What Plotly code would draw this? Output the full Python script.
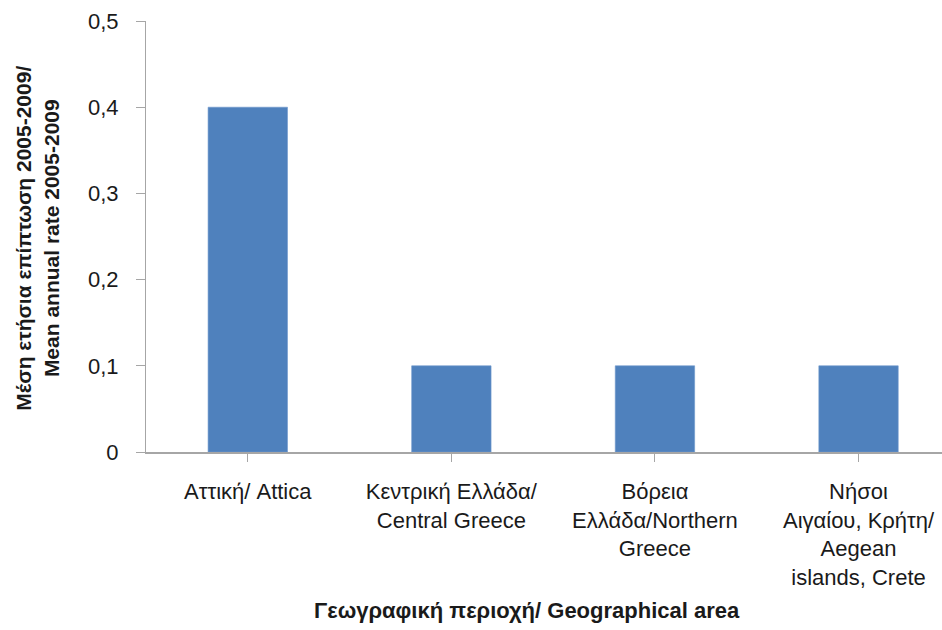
import plotly.graph_objects as go

# Mean annual rate 2005-2009 by geographical area
categories = [
    "Αττική/ Attica",
    "Κεντρική Ελλάδα/<br>Central Greece",
    "Βόρεια<br>Ελλάδα/Northern<br>Greece",
    "Νήσοι<br>Αιγαίου, Κρήτη/<br>Aegean<br>islands, Crete",
]
rates = [0.4, 0.1, 0.1, 0.1]
y_ticks = [0, 0.1, 0.2, 0.3, 0.4, 0.5]
y_tick_labels = ["0", "0,1", "0,2", "0,3", "0,4", "0,5"]

FONT = "Liberation Sans Narrow, Arial Narrow, Liberation Sans, sans-serif"
AXIS_GREY = "#a6a6a6"

fig = go.Figure(
    go.Bar(
        x=list(range(len(categories))),
        y=rates,
        width=0.39,
        marker=dict(color="#4f81bd", line=dict(color="#6f98cc", width=0.6)),
    )
)

fig.update_layout(
    width=942,
    height=630,
    margin=dict(l=146, r=0, t=21, b=178),
    paper_bgcolor="white",
    plot_bgcolor="white",
    showlegend=False,
    font=dict(family=FONT, size=17, color="#1a1a1a"),
    xaxis=dict(
        range=[-0.5, 3.41],
        tickmode="array",
        tickvals=list(range(len(categories))),
        ticktext=categories,
        tickson="boundaries",
        ticks="outside",
        ticklen=8,
        tickcolor=AXIS_GREY,
        showline=True,
        linecolor=AXIS_GREY,
        linewidth=1.5,
        showgrid=False,
        zeroline=False,
        tickfont=dict(family=FONT, size=22),
        ticklabelstandoff=11,
    ),
    yaxis=dict(
        range=[0, 0.5],
        tickmode="array",
        tickvals=y_ticks,
        ticktext=y_tick_labels,
        ticks="outside",
        ticklen=9,
        tickcolor=AXIS_GREY,
        showline=True,
        linecolor=AXIS_GREY,
        linewidth=1,
        showgrid=False,
        zeroline=False,
        tickfont=dict(family=FONT, size=22),
        ticklabelstandoff=13,
    ),
    annotations=[
        dict(
            text="<b>Μέση ετήσια επίπτωση 2005-2009/<br>Mean annual rate 2005-2009</b>",
            xref="paper", yref="paper",
            x=(37 - 146) / 796, y=0.495,
            xanchor="center", yanchor="middle",
            textangle=-90,
            showarrow=False,
            font=dict(family=FONT, size=21),
            align="center",
        ),
        dict(
            text="<b>Γεωγραφική περιοχή/ Geographical area</b>",
            xref="paper", yref="paper",
            x=(527 - 146) / 796, y=(452 - 610) / 431,
            xanchor="center", yanchor="middle",
            showarrow=False,
            font=dict(family=FONT, size=22),
        ),
    ],
)

fig.write_html("out.html")
